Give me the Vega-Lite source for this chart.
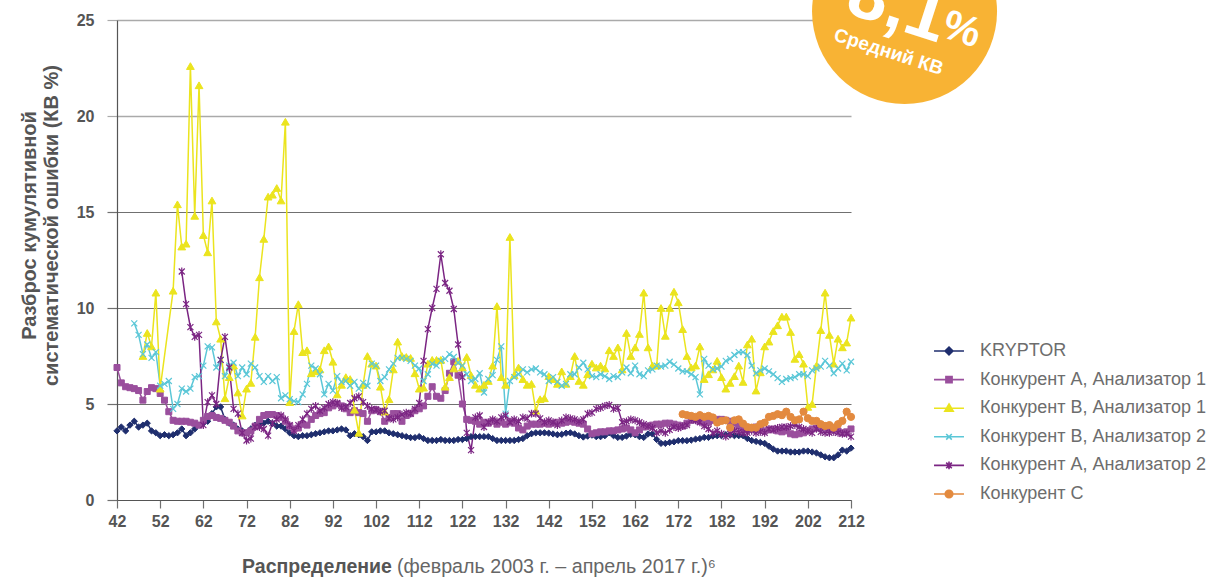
{
"$schema":"https://vega.github.io/schema/vega-lite/v6.json",
"width":734,"height":480,
"autosize":"none",
"padding":{"left":117,"top":20,"right":361,"bottom":81},
"background":"white",
"config":{"view":{"stroke":null},"font":"Liberation Sans"},
"title":{"text":"(февраль 2003 г. – апрель 2017 г.)⁶","orient":"bottom","anchor":"start","frame":"group","dx":280,"offset":-3,"baseline":"alphabetic","font":"Liberation Sans","fontSize":19.7,"fontWeight":"normal","color":"#666666"},
"datasets":{"cv":[
{"n":42,"K":3.6,"A1":6.9},{"n":43,"K":3.8,"A1":6.1},{"n":44,"K":3.6,"A1":5.9},{"n":45,"K":3.9,"A1":5.85},
{"n":46,"K":4.1,"A1":5.8,"B2":9.2},{"n":47,"K":3.8,"A1":5.7,"B2":8.6},
{"n":48,"K":3.9,"A1":5.2,"B1":7.5,"B2":7.6},{"n":49,"K":4.0,"A1":5.65,"B1":8.7,"B2":8.1},
{"n":50,"K":3.6,"A1":5.85,"B1":8.0,"B2":7.4},{"n":51,"K":3.5,"A1":5.8,"B1":10.8,"B2":7.7},
{"n":52,"K":3.35,"A1":5.55,"B1":5.8,"B2":5.95},{"n":53,"K":3.4,"A1":5.2,"B2":6.05},
{"n":54,"K":3.35,"A1":4.6,"B2":6.2},{"n":55,"K":3.4,"A1":4.15,"B1":10.9,"B2":4.75},
{"n":56,"K":3.5,"A1":4.1,"B1":15.4,"B2":5.0},
{"n":57,"K":3.7,"A1":4.1,"B1":13.2,"B2":5.8,"A2":11.9},
{"n":58,"K":3.35,"A1":4.1,"B1":13.35,"B2":5.65,"A2":10.2},
{"n":59,"K":3.5,"A1":4.05,"B1":22.6,"B2":5.8,"A2":9.0},
{"n":60,"K":3.7,"A1":4.0,"B1":14.8,"B2":6.4,"A2":8.5},
{"n":61,"K":3.9,"A1":3.9,"B1":21.6,"B2":6.45,"A2":8.6},
{"n":62,"K":4.0,"A1":4.15,"B1":13.8,"B2":7.0,"A2":3.9},
{"n":63,"K":4.1,"A1":4.35,"B1":12.9,"B2":8.0,"A2":5.1},
{"n":64,"K":4.5,"A1":4.4,"B1":15.6,"B2":7.95,"A2":5.45},
{"n":65,"K":4.85,"A1":4.3,"B1":9.3,"B2":6.9,"A2":5.0},
{"n":66,"K":4.85,"A1":4.25,"B1":8.4,"B2":7.3,"A2":7.3},
{"n":67,"K":4.2,"A1":4.15,"B1":5.3,"B2":6.45,"A2":8.5},
{"n":68,"K":4.0,"A1":4.05,"B1":6.4,"B2":7.0,"A2":6.9},
{"n":69,"K":3.9,"A1":3.85,"B1":7.0,"B2":7.15,"A2":4.75},
{"n":70,"K":3.7,"A1":3.6,"B1":5.6,"B2":6.45,"A2":4.5},
{"n":71,"K":3.6,"A1":3.5,"B1":4.4,"B2":6.9,"A2":3.5},
{"n":72,"K":3.5,"A1":3.5,"B1":5.8,"B2":6.55,"A2":3.1},
{"n":73,"K":3.7,"A1":3.6,"B1":6.1,"B2":7.1,"A2":3.2},
{"n":74,"K":3.9,"A1":3.85,"B1":8.5,"B2":6.9,"A2":3.8},
{"n":75,"K":3.9,"A1":4.2,"B1":11.6,"B2":6.45,"A2":3.8},
{"n":76,"K":4.0,"A1":4.4,"B1":13.6,"B2":6.15,"A2":3.7},
{"n":77,"K":4.1,"A1":4.45,"B1":15.8,"B2":6.45,"A2":3.35},
{"n":78,"K":4.0,"A1":4.45,"B1":15.9,"B2":6.2,"A2":4.0},
{"n":79,"K":3.85,"A1":4.4,"B1":16.25,"B2":6.4,"A2":4.2},
{"n":80,"K":3.85,"A1":4.3,"B1":15.6,"B2":5.3,"A2":4.4},
{"n":81,"K":3.7,"A1":4.1,"B1":19.7,"B2":5.45,"A2":4.2},
{"n":82,"K":3.5,"A1":3.85,"B1":5.1,"B2":5.25,"A2":3.9},
{"n":83,"K":3.35,"A1":3.7,"B1":8.8,"B2":5.15,"A2":3.6},
{"n":84,"K":3.3,"A1":3.75,"B1":10.2,"B2":5.1,"A2":3.9},
{"n":85,"K":3.35,"A1":3.95,"B1":7.7,"B2":5.5,"A2":4.2},
{"n":86,"K":3.35,"A1":3.9,"B1":7.8,"B2":6.05,"A2":4.5},
{"n":87,"K":3.4,"A1":4.2,"B1":6.6,"B2":7.0,"A2":4.75},
{"n":88,"K":3.45,"A1":4.4,"B1":6.7,"B2":6.85,"A2":4.9},
{"n":89,"K":3.5,"A1":4.5,"B1":6.8,"B2":6.55,"A2":4.65},
{"n":90,"K":3.55,"A1":4.55,"B1":7.8,"B2":5.5,"A2":4.8},
{"n":91,"K":3.6,"A1":4.8,"B1":8.0,"B2":6.05,"A2":5.0},
{"n":92,"K":3.6,"A1":4.9,"B1":7.2,"B2":5.7,"A2":5.1},
{"n":93,"K":3.65,"A1":5.0,"B1":5.5,"B2":6.45,"A2":5.05},
{"n":94,"K":3.7,"A1":4.9,"B1":6.0,"B2":6.15,"A2":4.8},
{"n":95,"K":3.65,"A1":4.75,"B1":6.4,"B2":6.2,"A2":4.85},
{"n":96,"K":3.35,"A1":4.55,"B1":6.3,"B2":5.95,"A2":5.05},
{"n":97,"K":3.45,"A1":4.65,"B1":4.7,"B2":6.15,"A2":5.3},
{"n":98,"K":3.4,"A1":4.55,"B1":3.5,"B2":5.8,"A2":5.4},
{"n":99,"K":3.3,"A1":4.5,"B1":6.0,"B2":6.1,"A2":5.1},
{"n":100,"K":3.1,"A1":4.1,"B1":7.5,"B2":5.95,"A2":4.9},
{"n":101,"K":3.55,"A1":4.65,"B1":7.1,"B2":7.1,"A2":4.75},
{"n":102,"K":3.55,"A1":4.7,"B1":7.0,"B2":7.0,"A2":4.7},
{"n":103,"K":3.6,"A1":4.6,"B1":5.9,"B2":6.2,"A2":4.6},
{"n":104,"K":3.6,"A1":4.1,"B1":4.6,"B2":6.4,"A2":4.65},
{"n":105,"K":3.5,"A1":4.3,"B1":5.25,"B2":6.8,"A2":4.25},
{"n":106,"K":3.45,"A1":4.5,"B1":6.8,"B2":7.1,"A2":4.2},
{"n":107,"K":3.4,"A1":4.5,"B1":8.25,"B2":7.4,"A2":4.3},
{"n":108,"K":3.35,"A1":4.1,"B1":7.5,"B2":7.4,"A2":4.45},
{"n":109,"K":3.3,"A1":4.4,"B1":7.45,"B2":7.35,"A2":4.55},
{"n":110,"K":3.25,"A1":4.5,"B1":7.4,"B2":7.25,"A2":4.5},
{"n":111,"K":3.25,"A1":4.65,"B1":6.6,"B2":7.0,"A2":4.75},
{"n":112,"K":3.3,"A1":4.75,"B1":5.8,"B2":6.85,"A2":5.05},
{"n":113,"K":3.2,"A1":4.9,"B1":5.85,"B2":6.2,"A2":7.25},
{"n":114,"K":3.1,"A1":5.4,"B1":7.1,"B2":6.55,"A2":8.9},
{"n":115,"K":3.1,"A1":5.9,"B1":7.3,"B2":7.1,"A2":10.0},
{"n":116,"K":3.1,"A1":5.4,"B1":7.3,"B2":7.0,"A2":11.0},
{"n":117,"K":3.15,"A1":5.3,"B1":7.3,"B2":7.25,"A2":12.8},
{"n":118,"K":3.1,"A1":5.7,"B1":5.9,"B2":7.35,"A2":11.3},
{"n":119,"K":3.1,"A1":6.6,"B1":6.4,"B2":7.6,"A2":10.9},
{"n":120,"K":3.1,"A1":7.2,"B1":6.85,"B2":7.45,"A2":9.95},
{"n":121,"K":3.15,"A1":6.5,"B1":7.25,"B2":7.15,"A2":8.1},
{"n":122,"K":3.15,"A1":5.0,"B1":6.9,"B2":7.0,"A2":6.4},
{"n":123,"K":3.2,"A1":4.2,"B1":7.45,"B2":6.55,"A2":3.5},
{"n":124,"K":3.3,"A1":4.15,"B1":6.5,"B2":6.2,"A2":2.6},
{"n":125,"K":3.3,"A1":4.1,"B1":6.0,"B2":6.3,"A2":4.3},
{"n":126,"K":3.3,"A1":3.95,"B1":5.8,"B2":6.6,"A2":4.4},
{"n":127,"K":3.3,"A1":4.05,"B1":6.0,"B2":5.6,"A2":3.8},
{"n":128,"K":3.3,"A1":4.0,"B1":6.2,"B2":6.3,"A2":4.05},
{"n":129,"K":3.2,"A1":4.1,"B1":7.0,"B2":6.5,"A2":4.2},
{"n":130,"K":3.1,"A1":3.95,"B1":10.1,"B2":7.3,"A2":4.1},
{"n":131,"K":3.1,"A1":4.05,"B1":6.4,"B2":8.0,"A2":4.3},
{"n":132,"K":3.1,"A1":3.95,"B1":6.0,"B2":4.5,"A2":4.4},
{"n":133,"K":3.1,"A1":4.1,"B1":13.7,"B2":6.2,"A2":4.05},
{"n":134,"K":3.1,"A1":4.0,"B1":6.5,"B2":6.4,"A2":4.2},
{"n":135,"K":3.15,"A1":3.75,"B1":6.9,"B2":6.55,"A2":4.1},
{"n":136,"K":3.2,"A1":3.65,"B1":6.3,"B2":6.8,"A2":4.3},
{"n":137,"K":3.35,"A1":3.85,"B1":6.0,"B2":6.65,"A2":4.25},
{"n":138,"K":3.45,"A1":3.95,"B1":6.05,"B2":6.8,"A2":4.5},
{"n":139,"K":3.5,"A1":3.95,"B1":4.65,"B2":6.85,"A2":4.5},
{"n":140,"K":3.5,"A1":3.95,"B1":5.25,"B2":6.65,"A2":4.25},
{"n":141,"K":3.5,"A1":4.0,"B1":5.3,"B2":6.55,"A2":4.05},
{"n":142,"K":3.48,"A1":3.95,"B1":6.45,"B2":6.2,"A2":4.15},
{"n":143,"K":3.44,"A1":4.0,"B1":6.3,"B2":6.4,"A2":4.05},
{"n":144,"K":3.4,"A1":4.05,"B1":6.05,"B2":6.15,"A2":3.9},
{"n":145,"K":3.42,"A1":4.0,"B1":6.7,"B2":5.95,"A2":4.15},
{"n":146,"K":3.48,"A1":4.05,"B1":6.05,"B2":6.05,"A2":4.3},
{"n":147,"K":3.5,"A1":4.1,"B1":6.45,"B2":6.55,"A2":4.25},
{"n":148,"K":3.44,"A1":4.05,"B1":7.5,"B2":6.55,"A2":4.2},
{"n":149,"K":3.35,"A1":4.0,"B1":6.2,"B2":6.9,"A2":4.1},
{"n":150,"K":3.28,"A1":3.95,"B1":6.0,"B2":7.15,"A2":4.2},
{"n":151,"K":3.33,"A1":3.7,"B1":6.55,"B2":6.8,"A2":4.5},
{"n":152,"K":3.38,"A1":3.45,"B1":7.1,"B2":6.45,"A2":4.55},
{"n":153,"K":3.3,"A1":3.5,"B1":6.9,"B2":6.4,"A2":4.75},
{"n":154,"K":3.3,"A1":3.55,"B1":7.0,"B2":6.55,"A2":4.8},
{"n":155,"K":3.35,"A1":3.55,"B1":6.85,"B2":6.45,"A2":4.9},
{"n":156,"K":3.5,"A1":3.6,"B1":7.8,"B2":6.3,"A2":4.95},
{"n":157,"K":3.35,"A1":3.6,"B1":7.5,"B2":6.45,"A2":4.75},
{"n":158,"K":3.26,"A1":3.65,"B1":7.95,"B2":6.4,"A2":4.8},
{"n":159,"K":3.26,"A1":3.7,"B1":6.8,"B2":6.65,"A2":4.05},
{"n":160,"K":3.33,"A1":3.75,"B1":8.7,"B2":6.9,"A2":4.1},
{"n":161,"K":3.42,"A1":3.65,"B1":7.5,"B2":6.6,"A2":4.2},
{"n":162,"K":3.4,"A1":3.5,"B1":7.95,"B2":7.0,"A2":4.15},
{"n":163,"K":3.3,"A1":3.65,"B1":8.65,"B2":6.55,"A2":4.05},
{"n":164,"K":3.26,"A1":3.8,"B1":10.8,"B2":6.45,"A2":3.95},
{"n":165,"K":3.44,"A1":3.85,"B1":7.95,"B2":6.75,"A2":3.85},
{"n":166,"K":3.44,"A1":3.9,"B1":7.0,"B2":6.8,"A2":3.75},
{"n":167,"K":3.15,"A1":3.95,"B1":7.0,"B2":7.0,"A2":3.5},
{"n":168,"K":2.95,"A1":3.95,"B1":10.0,"B2":6.95,"A2":3.6},
{"n":169,"K":2.95,"A1":4.0,"B1":8.55,"B2":7.0,"A2":3.5},
{"n":170,"K":3.0,"A1":4.0,"B1":10.0,"B2":7.2,"A2":3.65},
{"n":171,"K":3.03,"A1":3.95,"B1":10.85,"B2":7.05,"A2":3.8},
{"n":172,"K":3.09,"A1":3.9,"B1":10.3,"B2":6.85,"A2":3.75},
{"n":173,"K":3.09,"A1":3.85,"B1":8.9,"B2":6.7,"A2":3.85,"C":4.47},
{"n":174,"K":3.09,"A1":4.0,"B1":7.5,"B2":6.7,"A2":3.9,"C":4.42},
{"n":175,"K":3.12,"A1":4.15,"B1":6.9,"B2":6.55,"A2":4.2,"C":4.38},
{"n":176,"K":3.17,"A1":4.2,"B1":7.0,"B2":6.4,"A2":4.15,"C":4.33},
{"n":177,"K":3.2,"A1":4.1,"B1":8.0,"B2":5.5,"A2":4.05,"C":4.42},
{"n":178,"K":3.26,"A1":4.0,"B1":6.3,"B2":7.35,"A2":3.85,"C":4.33},
{"n":179,"K":3.26,"A1":4.05,"B1":6.55,"B2":7.0,"A2":3.7,"C":4.38},
{"n":180,"K":3.33,"A1":4.15,"B1":6.8,"B2":6.8,"A2":3.5,"C":4.3},
{"n":181,"K":3.35,"A1":4.2,"B1":7.25,"B2":6.85,"A2":3.6,"C":4.03},
{"n":182,"K":3.35,"A1":4.2,"B1":6.4,"B2":6.95,"A2":3.45,"C":4.12},
{"n":183,"K":3.4,"A1":4.15,"B1":5.8,"B2":7.25,"A2":3.3,"C":4.15},
{"n":184,"K":3.38,"A1":4.1,"B1":6.1,"B2":7.35,"A2":3.45,"C":3.77},
{"n":185,"K":3.35,"A1":4.0,"B1":6.45,"B2":7.55,"A2":3.6,"C":4.15},
{"n":186,"K":3.35,"A1":3.85,"B1":7.0,"B2":7.7,"A2":3.55,"C":4.2},
{"n":187,"K":3.35,"A1":3.75,"B1":6.15,"B2":7.7,"A2":3.5,"C":3.98},
{"n":188,"K":3.2,"A1":3.7,"B1":8.1,"B2":7.55,"A2":3.5,"C":3.8},
{"n":189,"K":3.1,"A1":3.75,"B1":8.4,"B2":7.0,"A2":3.6,"C":3.77},
{"n":190,"K":3.05,"A1":3.8,"B1":5.7,"B2":6.6,"A2":3.5,"C":3.77},
{"n":191,"K":3.0,"A1":3.7,"B1":6.65,"B2":6.75,"A2":3.55,"C":3.95},
{"n":192,"K":2.95,"A1":3.6,"B1":8.0,"B2":6.85,"A2":3.5,"C":4.03},
{"n":193,"K":2.8,"A1":3.65,"B1":8.25,"B2":6.7,"A2":3.7,"C":4.33},
{"n":194,"K":2.65,"A1":3.7,"B1":8.8,"B2":6.55,"A2":3.65,"C":4.38},
{"n":195,"K":2.55,"A1":3.6,"B1":9.1,"B2":6.35,"A2":3.75,"C":4.47},
{"n":196,"K":2.55,"A1":3.55,"B1":9.55,"B2":6.15,"A2":3.8,"C":4.42},
{"n":197,"K":2.55,"A1":3.6,"B1":9.55,"B2":6.3,"A2":3.8,"C":4.6},
{"n":198,"K":2.5,"A1":3.45,"B1":8.75,"B2":6.35,"A2":3.85,"C":4.33},
{"n":199,"K":2.5,"A1":3.4,"B1":7.35,"B2":6.4,"A2":3.9,"C":4.15},
{"n":200,"K":2.5,"A1":3.45,"B1":7.6,"B2":6.55,"A2":3.8,"C":4.2},
{"n":201,"K":2.55,"A1":3.5,"B1":7.1,"B2":6.55,"A2":3.7,"C":4.6},
{"n":202,"K":2.55,"A1":3.6,"B1":4.85,"B2":6.45,"A2":3.6,"C":4.26},
{"n":203,"K":2.5,"A1":3.7,"B1":5.0,"B2":6.75,"A2":3.5,"C":4.12},
{"n":204,"K":2.45,"A1":3.75,"B1":7.0,"B2":6.85,"A2":3.7,"C":4.12},
{"n":205,"K":2.35,"A1":3.8,"B1":8.85,"B2":6.95,"A2":3.55,"C":3.95},
{"n":206,"K":2.25,"A1":3.8,"B1":10.8,"B2":7.25,"A2":3.5,"C":3.86},
{"n":207,"K":2.2,"A1":3.75,"B1":8.6,"B2":7.0,"A2":3.5,"C":3.9},
{"n":208,"K":2.2,"A1":3.7,"B1":7.1,"B2":6.6,"A2":3.55,"C":3.77},
{"n":209,"K":2.35,"A1":3.6,"B1":8.4,"B2":6.85,"A2":3.5,"C":3.95},
{"n":210,"K":2.6,"A1":3.5,"B1":7.95,"B2":7.1,"A2":3.45,"C":4.12},
{"n":211,"K":2.55,"A1":3.55,"B1":8.2,"B2":6.75,"A2":3.45,"C":4.6},
{"n":212,"K":2.7,"A1":3.7,"B1":9.5,"B2":7.2,"A2":3.3,"C":4.33}
]},
"layer":[
{
"data":{"name":"cv"},
"transform":[{"fold":["K","A1","B1","B2","A2","C"],"as":["s","v"]},{"filter":"isValid(datum.v)"}],
"encoding":{
"x":{"field":"n","type":"quantitative","scale":{"domain":[42,212],"nice":false,"zero":false},
"axis":{"values":[42,52,62,72,82,92,102,112,122,132,142,152,162,172,182,192,202,212],"grid":false,"domainColor":"#555555","domainWidth":1.2,"tickColor":"#707070","tickSize":8,"tickWidth":1.2,"labelFont":"Liberation Sans","labelFontSize":16,"labelFontWeight":"bold","labelColor":"#555555","labelPadding":5,"labelFlush":false,"labelOverlap":false,"title":"Распределение","titleFont":"Liberation Sans","titleFontSize":19.5,"titleFontWeight":"bold","titleColor":"#555555","titleX":199.5,"titleY":72,"titleAlign":"center","titleBaseline":"alphabetic"}},
"y":{"field":"v","type":"quantitative","scale":{"domain":[0,25],"nice":false},
"axis":{"values":[0,5,10,15,20,25],"grid":true,"gridColor":{"condition":{"test":"datum.value >= 20","value":"#aaaaaa"},"value":"#707070"},"gridWidth":{"condition":{"test":"datum.value >= 20","value":1.6},"value":1.2},"domainColor":"#555555","domainWidth":1.2,"tickColor":{"condition":{"test":"datum.value >= 20","value":"#aaaaaa"},"value":"#707070"},"tickSize":10,"tickWidth":1.2,"labelFont":"Liberation Sans","labelFontSize":16,"labelFontWeight":"bold","labelColor":"#555555","labelPadding":13,"labelFlush":false,"title":["Разброс кумулятивной","систематической ошибки (КВ %)"],"titleFont":"Liberation Sans","titleFontSize":20,"titleFontWeight":"bold","titleColor":"#555555","titleAngle":-90,"titleAlign":"center","titleBaseline":"top","titleX":-98,"titleY":205,"titleLineHeight":22}},
"stroke":{"field":"s","type":"nominal","scale":{"domain":["K","A1","B1","B2","A2","C"],"range":["#1f2e6e","#9a4f9d","#ebe41e","#5bc7d7","#7b2583","#e38a3f"]},
"legend":{"orient":"none","legendX":817,"legendY":316,"title":null,"padding":0,"direction":"vertical","symbolSize":784,"symbolStrokeWidth":1.6,"labelOffset":16,"rowPadding":4.6,"labelFont":"Liberation Sans","labelFontSize":18,"labelColor":"#6d6d6d","labelLimit":400,
"labelExpr":"datum.value==='K'?'KRYPTOR':datum.value==='A1'?'Конкурент A, Анализатор 1':datum.value==='B1'?'Конкурент B, Анализатор 1':datum.value==='B2'?'Конкурент B, Анализатор 2':datum.value==='A2'?'Конкурент A, Анализатор 2':'Конкурент C'",
"encode":{"symbols":{"update":{
"shape":{"signal":"datum.value==='K'?'M-1.07,0L1.07,0M0,-0.28L0.28,0L0,0.28L-0.28,0Z':datum.value==='A1'?'M-1.07,0L1.07,0M-0.22,-0.22L0.22,-0.22L0.22,0.22L-0.22,0.22Z':datum.value==='B1'?'M-1.07,0L1.07,0M0,-0.3L0.3,0.22L-0.3,0.22Z':datum.value==='B2'?'M-1.07,0L1.07,0M-0.2,-0.2L0.2,0.2M-0.2,0.2L0.2,-0.2':datum.value==='A2'?'M-1.07,0L1.07,0M-0.2,-0.2L0.2,0.2M-0.2,0.2L0.2,-0.2M0,-0.27L0,0.27':'M-1.07,0L1.07,0M0.27,0A0.27,0.27,0,1,1,-0.27,0A0.27,0.27,0,1,1,0.27,0Z'"},
"fill":{"signal":"datum.value==='K'?'#1f2e6e':datum.value==='A1'?'#9a4f9d':datum.value==='B1'?'#ebe41e':datum.value==='B2'?'#5bc7d7':datum.value==='A2'?'#7b2583':'#e38a3f'"},
"size":{"value":784},
"strokeWidth":{"value":1.6}
}}}}}
},
"layer":[
{"mark":{"type":"line","strokeWidth":1.5}},
{"transform":[{"filter":"datum.s==='K'"}],"mark":{"type":"point","shape":"diamond","filled":true,"fill":"#1f2e6e","opacity":1,"strokeWidth":1,"size":40}},
{"transform":[{"filter":"datum.s==='A1'"}],"mark":{"type":"point","shape":"square","filled":true,"fill":"#9a4f9d","opacity":1,"strokeWidth":1,"size":36}},
{"transform":[{"filter":"datum.s==='B1'"}],"mark":{"type":"point","shape":"triangle-up","filled":true,"fill":"#ebe41e","opacity":1,"strokeWidth":1,"size":60}},
{"transform":[{"filter":"datum.s==='B2'"}],"mark":{"type":"point","shape":"M-1,-1L1,1M-1,1L1,-1","filled":false,"opacity":1,"strokeWidth":1.2,"size":36}},
{"transform":[{"filter":"datum.s==='A2'"}],"mark":{"type":"point","shape":"M-1,-1L1,1M-1,1L1,-1M0,-1.3L0,1.3","filled":false,"opacity":1,"strokeWidth":1.2,"size":36}},
{"transform":[{"filter":"datum.s==='C'"}],"mark":{"type":"point","shape":"circle","filled":true,"fill":"#e38a3f","opacity":1,"strokeWidth":1,"size":52}}
]
},
{"data":{"values":[{}]},"mark":{"type":"point","shape":"circle","filled":true,"opacity":1,"color":"#f8b334","size":34225},
"encoding":{"x":{"datum":224.4,"type":"quantitative"},"y":{"datum":25.44,"type":"quantitative"}}},
{"data":{"values":[{}]},"mark":{"type":"text","text":"8,1","font":"Liberation Sans","fontSize":72,"fontWeight":"bold","color":"white","align":"left","baseline":"alphabetic","angle":18},
"encoding":{"x":{"datum":210.2,"type":"quantitative"},"y":{"datum":25.42,"type":"quantitative"}}},
{"data":{"values":[{}]},"mark":{"type":"text","text":"%","font":"Liberation Sans","fontSize":42,"fontWeight":"bold","color":"white","align":"left","baseline":"alphabetic","angle":18},
"encoding":{"x":{"datum":232.6,"type":"quantitative"},"y":{"datum":24.15,"type":"quantitative"}}},
{"data":{"values":[{}]},"mark":{"type":"text","text":"Средний КВ","font":"Liberation Sans","fontSize":19,"fontWeight":"bold","color":"white","align":"left","baseline":"alphabetic","angle":18},
"encoding":{"x":{"datum":207.8,"type":"quantitative"},"y":{"datum":23.96,"type":"quantitative"}}}
]
}
